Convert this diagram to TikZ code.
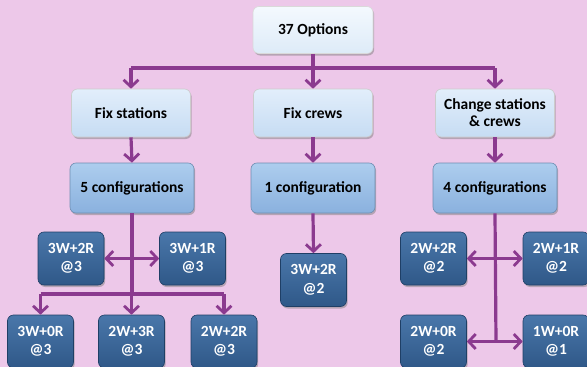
\documentclass[tikz,border=0pt]{standalone}
\usepackage{fontspec}
\setmainfont{Carlito}
\usetikzlibrary{arrows.meta,shadows}
\definecolor{bgpink}{HTML}{EDC8E9}
\definecolor{purp}{HTML}{8B3A8F}
\definecolor{topA}{HTML}{F4F9FE}
\definecolor{topB}{HTML}{DDEBF8}
\definecolor{lvA}{HTML}{E2EEFB}
\definecolor{lvB}{HTML}{C6DCF3}
\definecolor{cfA}{HTML}{ADCDEE}
\definecolor{cfB}{HTML}{8AB1DE}
\definecolor{dkA}{HTML}{4A77AA}
\definecolor{dkB}{HTML}{2F5888}
\definecolor{dkEdge}{HTML}{1F3F66}
\tikzset{
  basebox/.style={rounded corners=6pt, inner sep=0pt, align=center,
    font=\fontsize{15.5}{17}\selectfont\bfseries,
    drop shadow={opacity=0.5, shadow xshift=1.2pt, shadow yshift=-2pt}},
  optbox/.style={basebox, minimum width=120pt, minimum height=47pt,
    top color=topA, bottom color=topB, draw=white!70!gray, line width=0.6pt},
  lvbox/.style={basebox, minimum width=119pt, minimum height=48pt,
    top color=lvA, bottom color=lvB, draw=white!60!gray, line width=0.6pt},
  cfbox/.style={basebox, minimum width=124pt, minimum height=50pt,
    top color=cfA, bottom color=cfB, draw=cfB!80!black, line width=0.6pt},
  dkbox/.style={basebox, minimum width=66pt, minimum height=53pt,
    top color=dkA, bottom color=dkB, draw=dkEdge, line width=0.6pt,
    text=white, font=\fontsize{15.5}{18.5}\selectfont\bfseries},
  conn/.style={draw=purp, line width=3.2pt},
  arr/.style={conn, -{Straight Barb[length=7pt,width=15pt,line width=2.8pt]}},
}
\begin{document}
\begin{tikzpicture}[x=1pt,y=-1pt]
\useasboundingbox (0,0) rectangle (587,367);
\clip (0,0) rectangle (587,367);
\fill[bgpink] (0,0) rectangle (587,367);

% nodes
\node[optbox] (root) at (313,30) {37 Options};
\node[lvbox] (fs) at (131,113) {Fix stations};
\node[lvbox] (fc) at (313,113) {Fix crews};
\node[lvbox] (cs) at (495,113) {Change stations\\\& crews};
\node[cfbox] (c5) at (132,188) {5 configurations};
\node[cfbox] (c1) at (313,188) {1 configuration};
\node[cfbox] (c4) at (495,188) {4 configurations};

\node[dkbox] (a32) at (71,258.5) {3W+2R\\@3};
\node[dkbox] (a31) at (192.5,258.5) {3W+1R\\@3};
\node[dkbox] (a30) at (40.5,341.5) {3W+0R\\@3};
\node[dkbox] (a23) at (131.5,341.5) {2W+3R\\@3};
\node[dkbox] (a22) at (224,341.5) {2W+2R\\@3};

\node[dkbox] (b32) at (313.5,280) {3W+2R\\@2};

\node[dkbox] (d22) at (433.5,258.5) {2W+2R\\@2};
\node[dkbox] (d21) at (556,258.5) {2W+1R\\@2};
\node[dkbox] (d20) at (433.5,341.5) {2W+0R\\@2};
\node[dkbox] (d10) at (556,341.5) {1W+0R\\@1};

% junction coordinates
\coordinate (jm) at (313,68);
\coordinate (jl) at (131,68);
\coordinate (jr) at (495,68);
\coordinate (h5) at (132,258.5);
\coordinate (b5) at (132,294);
\coordinate (bl) at (40.5,294);
\coordinate (bc) at (131.5,294);
\coordinate (br) at (224,294);
\coordinate (h4) at (496,258.5);
\coordinate (g4) at (496,341.5);

% connectors
\draw[conn] (root.south) -- (jm);
\draw[conn] (jl) -- (jr);
\draw[arr] (jl) -- (fs.north);
\draw[arr] (jm) -- (fc.north);
\draw[arr] (jr) -- (cs.north);

\draw[arr] (fs.south) -- (c5.north);
\draw[arr] (fc.south) -- (c1.north);
\draw[arr] (cs.south) -- (c4.north);

\draw[conn] (c5.south) -- (b5);
\draw[arr] (h5) -- (a32.east);
\draw[arr] (h5) -- (a31.west);
\draw[conn] (bl) -- (br);
\draw[arr] (bl) -- (a30.north);
\draw[arr] (bc) -- (a23.north);
\draw[arr] (br) -- (a22.north);

\draw[arr] (c1.south) -- (b32.north);

\draw[conn] (c4.south) -- (g4);
\draw[arr] (h4) -- (d22.east);
\draw[arr] (h4) -- (d21.west);
\draw[arr] (g4) -- (d20.east);
\draw[arr] (g4) -- (d10.west);
\end{tikzpicture}
\end{document}
